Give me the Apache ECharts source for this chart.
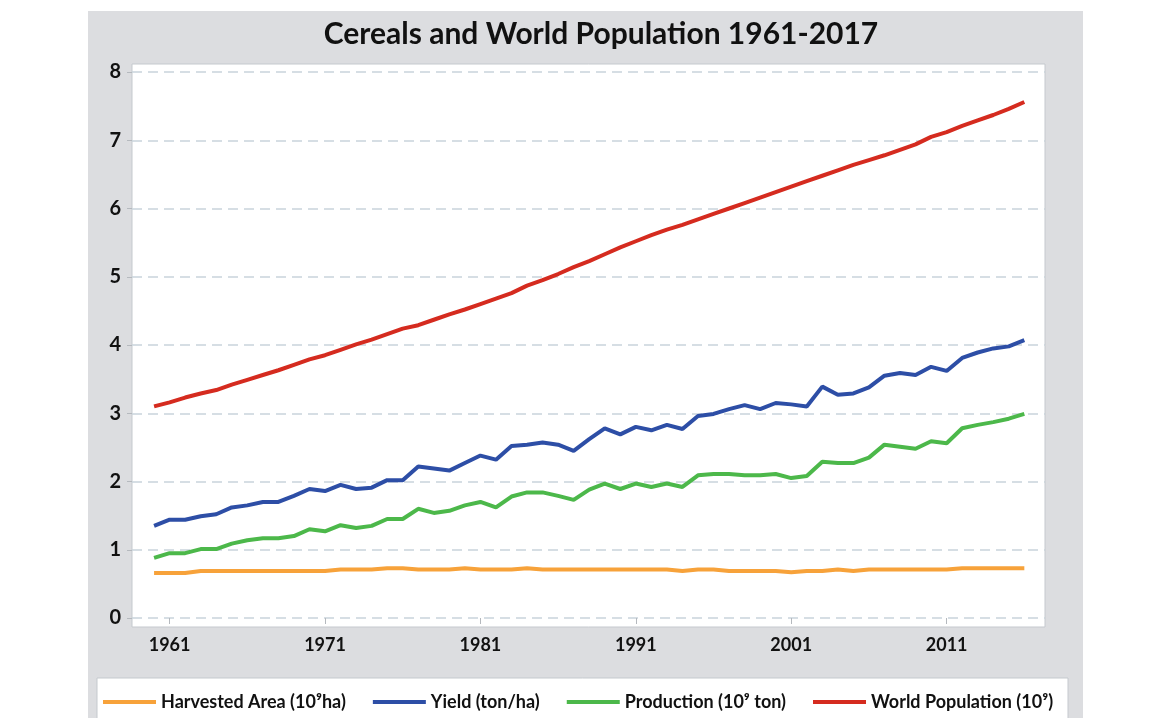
<!DOCTYPE html>
<html>
<head>
<meta charset="utf-8">
<script src="https://cdn.jsdelivr.net/npm/echarts@6/dist/echarts.min.js"></script>
<style>html,body{margin:0;padding:0;background:#fff;}#c{width:1159px;height:718px;}</style>
</head>
<body>
<div id="c"></div>
<script>
var years = [1961,1962,1963,1964,1965,1966,1967,1968,1969,1970,1971,1972,1973,1974,1975,1976,1977,1978,1979,1980,1981,1982,1983,1984,1985,1986,1987,1988,1989,1990,1991,1992,1993,1994,1995,1996,1997,1998,1999,2000,2001,2002,2003,2004,2005,2006,2007,2008,2009,2010,2011,2012,2013,2014,2015,2016,2017];
var harvestedArea = [0.66,0.66,0.66,0.69,0.69,0.69,0.69,0.69,0.69,0.69,0.69,0.69,0.71,0.71,0.71,0.73,0.73,0.71,0.71,0.71,0.73,0.71,0.71,0.71,0.73,0.71,0.71,0.71,0.71,0.71,0.71,0.71,0.71,0.71,0.69,0.71,0.71,0.69,0.69,0.69,0.69,0.67,0.69,0.69,0.71,0.69,0.71,0.71,0.71,0.71,0.71,0.71,0.73,0.73,0.73,0.73,0.73];
var yieldTonHa = [1.35,1.44,1.44,1.49,1.52,1.62,1.65,1.70,1.70,1.79,1.89,1.86,1.95,1.89,1.91,2.02,2.02,2.22,2.19,2.16,2.27,2.38,2.32,2.52,2.54,2.57,2.54,2.45,2.62,2.78,2.69,2.80,2.75,2.83,2.77,2.96,2.99,3.06,3.12,3.06,3.15,3.13,3.10,3.39,3.27,3.29,3.38,3.55,3.59,3.56,3.68,3.62,3.81,3.89,3.95,3.98,4.07];
var production = [0.88,0.95,0.95,1.01,1.01,1.09,1.14,1.17,1.17,1.20,1.30,1.27,1.36,1.32,1.35,1.45,1.45,1.60,1.54,1.57,1.65,1.70,1.62,1.78,1.84,1.84,1.79,1.73,1.88,1.97,1.89,1.97,1.92,1.97,1.92,2.09,2.11,2.11,2.09,2.09,2.11,2.05,2.08,2.29,2.27,2.27,2.35,2.54,2.51,2.48,2.59,2.56,2.78,2.83,2.87,2.92,2.99];
var population = [3.10,3.16,3.23,3.29,3.34,3.42,3.49,3.56,3.63,3.71,3.79,3.85,3.93,4.01,4.08,4.16,4.24,4.29,4.37,4.45,4.52,4.60,4.68,4.76,4.87,4.95,5.04,5.14,5.23,5.33,5.43,5.52,5.61,5.69,5.76,5.84,5.92,6.00,6.08,6.16,6.24,6.32,6.40,6.48,6.56,6.64,6.71,6.78,6.86,6.94,7.05,7.12,7.21,7.29,7.37,7.46,7.56];
var tickAt = [1962,1972,1982,1992,2002,2012];
var tickLabels = ['1961','1971','1981','1991','2001','2011'];
var seriesNames = ['Harvested Area (10\u2079ha)','Yield (ton/ha)','Production (10\u2079 ton)','World Population (10\u2079)'];
var seriesColors = ['#f7a23a','#2d4ea6','#4cb84a','#d52b1f'];

function pairs(arr){ return arr.map(function(v,i){ return [years[i], v]; }); }
var allData = [harvestedArea, yieldTonHa, production, population];

var chart = echarts.init(document.getElementById('c'), null, {renderer:'canvas'});
var FONT = 'Lato';
chart.setOption({
  animation:false,
  backgroundColor:'#ffffff',
  title:{
    text:'Cereals and World Population 1961-2017',
    left:596, top:14, textAlign:'center',
    textStyle:{fontFamily:FONT, fontSize:30, fontWeight:'bold', color:'#111'}
  },
  graphic:[
    {type:'rect', z:-10, shape:{x:88,y:11,width:995,height:720}, style:{fill:'#dcdde0'}},
    {type:'rect', z:-9, shape:{x:132,y:64,width:913,height:563}, style:{fill:'#ffffff', stroke:'#c5c9ce', lineWidth:1}},
    {type:'rect', z:-9, shape:{x:97,y:678,width:971,height:50}, style:{fill:'#ffffff', stroke:'#c5c9ce', lineWidth:1}}
  ],
  legend:{
    left:98, top:688, itemGap:27, itemWidth:53, itemHeight:4, icon:'rect',
    data:seriesNames,
    textStyle:{fontFamily:FONT, fontSize:18, fontWeight:'bold', color:'#111'}
  },
  grid:{left:132, right:114, top:72, bottom:100, containLabel:false},
  xAxis:{
    type:'value', min:1959.58, max:2018.33, offset:9,
    axisLine:{show:false},
    splitLine:{show:false},
    axisTick:{show:true, length:6, lineStyle:{color:'#b5b9be'}, customValues:tickAt},
    axisLabel:{customValues:tickAt, margin:9, fontFamily:FONT, fontSize:18, fontWeight:'bold', color:'#111',
      formatter:function(v){ var k=tickAt.indexOf(v); return k>=0?tickLabels[k]:''; }}
  },
  yAxis:{
    type:'value', min:0, max:8, interval:1,
    axisLine:{show:false},
    axisTick:{show:true, length:5, lineStyle:{color:'#b5b9be'}},
    axisLabel:{margin:11, fontFamily:FONT, fontSize:20, fontWeight:'bold', color:'#111'},
    splitLine:{show:true, lineStyle:{color:'#c9d3dc', type:[10,6], width:1.5}}
  },
  series: allData.map(function(arr,k){
    return {name:seriesNames[k], type:'line', data:pairs(arr), showSymbol:false, symbol:'none',
      lineStyle:{width:4, color:seriesColors[k]}, itemStyle:{color:seriesColors[k]}};
  })
});
</script>
</body>
</html>
